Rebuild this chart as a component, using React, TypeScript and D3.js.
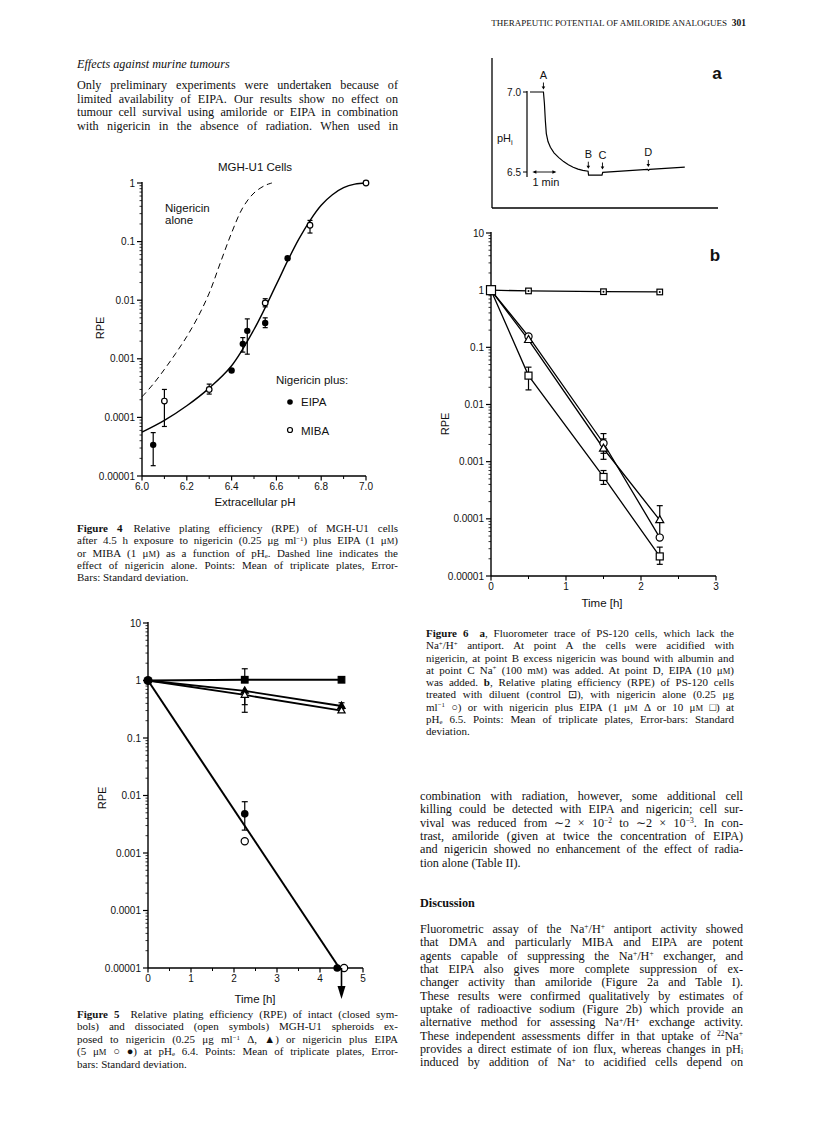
import React, { useLayoutEffect, useRef } from 'react';
import * as d3 from 'd3';

const SERIF = "'Liberation Serif', 'Times New Roman', serif";
const SANS = "'Liberation Sans', Arial, Helvetica, sans-serif";

// ================= Page text =================
const headerTitle = 'THERAPEUTIC POTENTIAL OF AMILORIDE ANALOGUES';
const headerPage = '301';
const sectionHeading = 'Effects against murine tumours';
const introLines = [
  'Only preliminary experiments were undertaken because of',
  'limited availability of EIPA. Our results show no effect on',
  'tumour cell survival using amiloride or EIPA in combination',
  'with nigericin in the absence of radiation. When used in',
];
const fig4Caption = [
  '**Figure 4**§Relative plating efficiency (RPE) of MGH-U1 cells',
  'after 4.5 h exposure to nigericin (0.25 μg ml^{−1}) plus EIPA (1 μ~{M})',
  'or MIBA (1 μ~{M}) as a function of pH_{e}. Dashed line indicates the',
  'effect of nigericin alone. Points: Mean of triplicate plates, Error-',
  'Bars: Standard deviation.',
];
const fig5Caption = [
  '**Figure 5**§Relative plating efficiency (RPE) of intact (closed sym-',
  'bols) and dissociated (open symbols) MGH-U1 spheroids ex-',
  'posed to nigericin (0.25 μg ml^{−1} Δ, ▲) or nigericin plus EIPA',
  '(5 μ~{M} ○ ●) at pH_{e} 6.4. Points: Mean of triplicate plates, Error-',
  'bars: Standard deviation.',
];
const fig6Caption = [
  '**Figure 6**§**a**, Fluorometer trace of PS-120 cells, which lack the',
  'Na^{+}/H^{+} antiport. At point A the cells were acidified with',
  'nigericin, at point B excess nigericin was bound with albumin and',
  'at point C Na^{+} (100 m~{M}) was added. At point D, EIPA (10 μ~{M})',
  'was added. **b**, Relative plating efficiency (RPE) of PS-120 cells',
  'treated with diluent (control ⊡), with nigericin alone (0.25 μg',
  'ml^{−1} ○) or with nigericin plus EIPA (1 μ~{M} Δ or 10 μ~{M} □) at',
  'pH_{e} 6.5. Points: Mean of triplicate plates, Error-bars: Standard',
  'deviation.',
];
const rightBodyLines = [
  'combination with radiation, however, some additional cell',
  'killing could be detected with EIPA and nigericin; cell sur-',
  'vival was reduced from ∼2 × 10^{−2} to ∼2 × 10^{−3}. In con-',
  'trast, amiloride (given at twice the concentration of EIPA)',
  'and nigericin showed no enhancement of the effect of radia-',
  'tion alone (Table II).',
];
const discussionHeading = 'Discussion';
const discussionLines = [
  'Fluorometric assay of the Na^{+}/H^{+} antiport activity showed',
  'that DMA and particularly MIBA and EIPA are potent',
  'agents capable of suppressing the Na^{+}/H^{+} exchanger, and',
  'that EIPA also gives more complete suppression of ex-',
  'changer activity than amiloride (Figure 2a and Table I).',
  'These results were confirmed qualitatively by estimates of',
  'uptake of radioactive sodium (Figure 2b) which provide an',
  'alternative method for assessing Na^{+}/H^{+} exchange activity.',
  'These independent assessments differ in that uptake of ^{22}Na^{+}',
  'provides a direct estimate of ion flux, whereas changes in pH_{i}',
  'induced by addition of Na^{+} to acidified cells depend on',
];

// ================= Figure 4 data =================
const fig4Title = 'MGH-U1 Cells';
const fig4XLabel = 'Extracellular pH';
const fig4YLabel = 'RPE';
const fig4XTicks = [6.0, 6.2, 6.4, 6.6, 6.8, 7.0];
const fig4XMinorTicks = [6.1, 6.3, 6.5, 6.7, 6.9];
const fig4YTicks = [1, 0.1, 0.01, 0.001, 0.0001, 0.00001];
const fig4YTickLabels = ['1', '0.1', '0.01', '0.001', '0.0001', '0.00001'];
const fig4EipaPH = [6.05, 6.4, 6.45, 6.47, 6.55, 6.65];
const fig4EipaRPE = [0.000034, 0.00063, 0.0018, 0.003, 0.0041, 0.052];
const fig4EipaLow = [0.000015, NaN, 0.0013, 0.0012, 0.0034, NaN];
const fig4EipaHigh = [0.000055, NaN, 0.0023, 0.0048, 0.005, NaN];
const fig4MibaPH = [6.1, 6.3, 6.55, 6.75, 7.0];
const fig4MibaRPE = [0.00019, 0.0003, 0.009, 0.19, 1.0];
const fig4MibaLow = [0.00007, 0.00025, 0.0077, 0.14, NaN];
const fig4MibaHigh = [0.0003, 0.00037, 0.0106, 0.23, NaN];
const fig4FitPH = [6.0, 6.1, 6.2, 6.3, 6.4, 6.5, 6.6, 6.65, 6.7, 6.75, 6.8, 6.85, 6.9, 6.95, 7.0];
const fig4FitRPE = [0.000056, 0.000089, 0.000158, 0.000316, 0.00076, 0.00316, 0.0186, 0.0468, 0.11, 0.229, 0.417, 0.631, 0.832, 0.955, 1.0];
const fig4AlonePH = [6.0, 6.05, 6.1, 6.15, 6.2, 6.25, 6.3, 6.35, 6.4, 6.45, 6.5, 6.55, 6.58];
const fig4AloneRPE = [0.000224, 0.00037, 0.00066, 0.00123, 0.0024, 0.0052, 0.0132, 0.0437, 0.141, 0.38, 0.676, 0.912, 1.0];
const fig4AloneLabel = ['Nigericin', 'alone'];
const fig4LegendTitle = 'Nigericin plus:';
const fig4LegendItems = ['EIPA', 'MIBA'];

// ================= Figure 6a data =================
const fig6aYTicks = [7.0, 6.5];
const fig6aYTickLabels = ['7.0', '6.5'];
const fig6aTraceMin = [0, 0.56, 0.6, 0.64, 0.68, 0.75, 0.85, 1.0, 1.2, 1.4, 1.6, 1.8, 2.0, 2.2, 2.42, 2.44, 3.0, 3.03, 4.9, 4.94, 4.98, 6.45];
const fig6aTracePH = [7.0, 7.0, 6.93, 6.82, 6.74, 6.69, 6.655, 6.62, 6.59, 6.565, 6.545, 6.53, 6.518, 6.51, 6.505, 6.48, 6.48, 6.498, 6.516, 6.51, 6.516, 6.53];
const fig6aEventLabels = ['A', 'B', 'C', 'D'];
const fig6aEventMin = [0.56, 2.43, 3.02, 4.93];
const fig6aEventPH = [7.0, 6.505, 6.5, 6.516];
const fig6aScaleMin = [0.1, 1.1];
const fig6aScaleLabel = '1 min';
const fig6aPanel = 'a';

// ================= Figure 6b data =================
const fig6bXTicks = [0, 1, 2, 3];
const fig6bXMinor = [0.5, 1.5, 2.5];
const fig6bYTicks = [10, 1, 0.1, 0.01, 0.001, 0.0001, 0.00001];
const fig6bYTickLabels = ['10', '1', '0.1', '0.01', '0.001', '0.0001', '0.00001'];
const fig6bTime = [0, 0.5, 1.5, 2.25];
const fig6bControl = [1, 0.97, 0.94, 0.93];
const fig6bNigericin = [1, 0.155, 0.0021, 0.000047];
const fig6bNigericinLow = [NaN, NaN, 0.0014, NaN];
const fig6bNigericinHigh = [NaN, NaN, 0.0031, NaN];
const fig6bEipa1 = [1, 0.135, 0.0017, 0.000095];
const fig6bEipa1Low = [NaN, NaN, 0.0011, 0.00005];
const fig6bEipa1High = [NaN, NaN, 0.0025, 0.00017];
const fig6bEipa10 = [1, 0.032, 0.00054, 0.000022];
const fig6bEipa10Low = [NaN, 0.018, 0.0004, 0.000016];
const fig6bEipa10High = [NaN, 0.045, 0.0007, 0.000032];
const fig6bPanel = 'b';

// ================= Figure 5 data =================
const fig5XTicks = [0, 1, 2, 3, 4, 5];
const fig5XMinor = [0.5, 1.5, 2.5, 3.5, 4.5];
const fig5YTicks = [10, 1, 0.1, 0.01, 0.001, 0.0001, 0.00001];
const fig5YTickLabels = ['10', '1', '0.1', '0.01', '0.001', '0.0001', '0.00001'];
const fig5Time = [0, 2.25, 4.5];
const fig5Control = [1, 1.03, 1.03];
const fig5ControlHigh = [NaN, 1.6, NaN];
const fig5NigClosed = [1, 0.66, 0.36];
const fig5NigClosedLow = [NaN, 0.38, 0.32];
const fig5NigClosedHigh = [NaN, NaN, 0.41];
const fig5NigOpen = [1, 0.56, 0.3];
const fig5NigOpenLow = [NaN, 0.28, NaN];
const fig5EipaClosedTime = [0, 2.25, 4.4];
const fig5EipaClosed = [1, 0.0048, 0.00001];
const fig5EipaClosedLow = [NaN, 0.0025, NaN];
const fig5EipaClosedHigh = [NaN, 0.0078, NaN];
const fig5EipaOpenTime = [2.25, 4.56];
const fig5EipaOpen = [0.0016, 0.00001];
const fig5FitTime = [0, 4.45];
const fig5FitRPE = [1, 0.00001];
const fig5ArrowTime = 4.5;

// ================= helpers =================
function parse(s) {
  const out = [];
  const re = /\*\*([^*]+)\*\*|\^\{([^}]+)\}|_\{([^}]+)\}|~\{([^}]+)\}|§/g;
  let last = 0;
  let m;
  while ((m = re.exec(s))) {
    if (m.index > last) out.push({ t: s.slice(last, m.index) });
    if (m[1] !== undefined) out.push({ t: m[1], bold: true });
    else if (m[2] !== undefined) out.push({ t: m[2], sup: true });
    else if (m[3] !== undefined) out.push({ t: m[3], sub: true });
    else if (m[4] !== undefined) out.push({ t: m[4], sc: true });
    else out.push({ t: '\u2002\u2002', gap: true });
    last = re.lastIndex;
  }
  if (last < s.length) out.push({ t: s.slice(last) });
  return out;
}

function Rich({ s, x, y, size, width = 0, justify = false, family = SERIF, weight = 'normal', fontStyle = 'normal', anchor = 'start' }) {
  const segs = parse(s);
  let shift = 0;
  const kids = segs.map((g, i) => {
    let target = 0;
    let fs = size;
    if (g.sup) { target = -size * 0.3; fs = size * 0.62; }
    if (g.sub) { target = size * 0.1; fs = size * 0.62; }
    if (g.sc) { fs = size * 0.78; }
    const dy = target - shift;
    shift = target;
    return (
      <tspan key={i} dy={dy !== 0 ? dy : undefined} fontSize={fs} fontWeight={g.bold ? 'bold' : undefined}>
        {g.t}
      </tspan>
    );
  });
  return (
    <text x={x} y={y} fontSize={size} fontFamily={family} fontWeight={weight} fontStyle={fontStyle}
      textAnchor={anchor} fill="#111" data-w={justify ? width : undefined}>
      {kids}
    </text>
  );
}

function Marker({ kind, x, y, s }) {
  const sw = 1.2;
  if (kind === 'dot') return <circle cx={x} cy={y} r={s} fill="#000" />;
  if (kind === 'ring') return <circle cx={x} cy={y} r={s} fill="#fff" stroke="#000" strokeWidth={sw} />;
  if (kind === 'tri' || kind === 'triFill') {
    const pts = [[x, y - s * 1.1], [x - s, y + s * 0.65], [x + s, y + s * 0.65]].map(p => p.join(',')).join(' ');
    return <polygon points={pts} fill={kind === 'tri' ? '#fff' : '#000'} stroke="#000" strokeWidth={sw} />;
  }
  if (kind === 'sq' || kind === 'sqFill') return <rect x={x - s} y={y - s} width={2 * s} height={2 * s} fill={kind === 'sq' ? '#fff' : '#000'} stroke="#000" strokeWidth={sw} />;
  if (kind === 'sqDot') return (
    <g>
      <rect x={x - s} y={y - s} width={2 * s} height={2 * s} fill="#fff" stroke="#000" strokeWidth={sw} />
      <circle cx={x} cy={y} r={s * 0.35} fill="#000" />
    </g>
  );
  return null;
}

function LogYAxis({ scale, x, ticks, labels, fontSize = 10 }) {
  const [lo, hi] = scale.domain();
  const minors = [];
  for (let e = Math.round(Math.log10(lo)); e < Math.round(Math.log10(hi)); e++) {
    for (let k = 2; k <= 9; k++) minors.push(k * Math.pow(10, e));
  }
  return (
    <g>
      <line x1={x} x2={x} y1={scale(lo)} y2={scale(hi) - 1} stroke="#000" strokeWidth={1.4} />
      {minors.map((v, i) => <line key={'m' + i} x1={x - 2.5} x2={x} y1={scale(v)} y2={scale(v)} stroke="#000" strokeWidth={0.8} />)}
      {ticks.map((v, i) => (
        <g key={'t' + i}>
          <line x1={x - 5} x2={x} y1={scale(v)} y2={scale(v)} stroke="#000" strokeWidth={1.2} />
          <text x={x - 7} y={scale(v) + 3.5} textAnchor="end" fontFamily={SANS} fontSize={fontSize} fill="#111">{labels[i]}</text>
        </g>
      ))}
    </g>
  );
}

function LinXAxis({ scale, y, ticks, minor, labels, fontSize = 10 }) {
  const [a, b] = scale.domain();
  return (
    <g>
      <line x1={scale(a)} x2={scale(b)} y1={y} y2={y} stroke="#000" strokeWidth={1.4} />
      {minor.map((v, i) => <line key={'m' + i} x1={scale(v)} x2={scale(v)} y1={y} y2={y + 3} stroke="#000" strokeWidth={1} />)}
      {ticks.map((v, i) => (
        <g key={'t' + i}>
          <line x1={scale(v)} x2={scale(v)} y1={y} y2={y + 4.5} stroke="#000" strokeWidth={1.2} />
          <text x={scale(v)} y={y + 13.5} textAnchor="middle" fontFamily={SANS} fontSize={fontSize} fill="#111">{labels[i]}</text>
        </g>
      ))}
    </g>
  );
}

function TextBlock({ lines, x, y0, lh, size, width, justifyLast = false }) {
  return (
    <g>
      {lines.map((l, i) => (
        <Rich key={i} s={l} x={x} y={y0 + i * lh} size={size} width={width}
          justify={i < lines.length - 1 || justifyLast} />
      ))}
    </g>
  );
}

function zip(a, b) { return a.map((v, i) => [v, b[i]]); }

function errPair(t, lo, hi, sx, sy, yc, cap = 3) {
  const top = isNaN(hi) ? yc : sy(hi);
  const bot = isNaN(lo) ? yc : sy(lo);
  return (
    <g stroke="#000" strokeWidth={1.2}>
      <line x1={sx(t)} x2={sx(t)} y1={top} y2={bot} />
      {!isNaN(hi) && <line x1={sx(t) - cap} x2={sx(t) + cap} y1={top} y2={top} />}
      {!isNaN(lo) && <line x1={sx(t) - cap} x2={sx(t) + cap} y1={bot} y2={bot} />}
    </g>
  );
}

// ================= App =================
export default function App() {
  const ref = useRef(null);

  useLayoutEffect(() => {
    const run = () => {
      const root = ref.current;
      if (!root) return;
      root.querySelectorAll('text[data-w]').forEach((el) => {
        const w = parseFloat(el.getAttribute('data-w'));
        el.removeAttribute('textLength');
        el.removeAttribute('lengthAdjust');
        el.style.wordSpacing = '0px';
        const nat = el.getComputedTextLength();
        const n = (el.textContent.match(/ /g) || []).length;
        if (nat < w && n > 0) {
          el.style.wordSpacing = (w - nat) / n + 'px';
          const after = el.getComputedTextLength();
          if (Math.abs(after - w) > 2) {
            el.style.wordSpacing = '0px';
            el.setAttribute('textLength', String(w));
            el.setAttribute('lengthAdjust', 'spacing');
          }
        } else if (nat > w) {
          el.setAttribute('textLength', String(w));
          el.setAttribute('lengthAdjust', 'spacingAndGlyphs');
        }
      });
    };
    run();
    if (document.fonts && document.fonts.ready) document.fonts.ready.then(run);
  }, []);

  // ---- Figure 4 scales ----
  const f4x = d3.scaleLinear().domain([6, 7]).range([142, 366]);
  const f4y = d3.scaleLog().domain([1e-5, 1]).range([476, 183]);
  const f4line = d3.line().x(d => f4x(d[0])).y(d => f4y(d[1])).curve(d3.curveCatmullRom.alpha(0.5));

  // ---- Figure 6a scales ----
  const f6ax = d3.scaleLinear().domain([0, 1]).range([530, 554]);
  const f6ay = d3.scaleLinear().domain([6.5, 7.0]).range([172, 92]);
  const f6aline = d3.line().x(d => f6ax(d[0])).y(d => f6ay(d[1]));

  // ---- Figure 6b scales ----
  const f6bx = d3.scaleLinear().domain([0, 3]).range([491, 716]);
  const f6by = d3.scaleLog().domain([1e-5, 10]).range([576, 233]);
  const f6bline = d3.line().x(d => f6bx(d[0])).y(d => f6by(d[1]));

  // ---- Figure 5 scales ----
  const f5x = d3.scaleLinear().domain([0, 5]).range([148, 363]);
  const f5y = d3.scaleLog().domain([1e-5, 10]).range([968, 623]);
  const f5line = d3.line().x(d => f5x(d[0])).y(d => f5y(d[1]));

  const colL = 77, colLW = 321, colR = 420, colRW = 323, capR = 426, capRW = 308;
  const bodySize = 12.2, capSize = 11;

  return (
    <svg ref={ref} width={816} height={1137} viewBox="0 0 816 1137"
      style={{ position: 'absolute', left: 0, top: 0, background: '#fff' }}>
      <rect x={0} y={0} width={816} height={1137} fill="#fff" />

      {/* Header */}
      <text x={727} y={26} textAnchor="end" fontFamily={SERIF} fontSize={9} fill="#111">{headerTitle}</text>
      <text x={746} y={26} textAnchor="end" fontFamily={SERIF} fontSize={9.5} fontWeight="bold" fill="#111">{headerPage}</text>

      {/* Left column intro */}
      <text x={colL} y={68} fontFamily={SERIF} fontStyle="italic" fontSize={bodySize} fill="#111">{sectionHeading}</text>
      <TextBlock lines={introLines} x={colL} y0={89} lh={13.6} size={bodySize} width={colLW} justifyLast={true} />

      {/* ================= Figure 4 ================= */}
      <g>
        <text x={255} y={171} textAnchor="middle" fontFamily={SANS} fontSize={11.5} fill="#111">{fig4Title}</text>
        <LogYAxis scale={f4y} x={f4x(6)} ticks={fig4YTicks} labels={fig4YTickLabels} />
        <LinXAxis scale={f4x} y={f4y(1e-5)} ticks={fig4XTicks} minor={fig4XMinorTicks}
          labels={fig4XTicks.map(v => v.toFixed(1))} />
        <text x={255} y={506} textAnchor="middle" fontFamily={SANS} fontSize={11.5} fill="#111">{fig4XLabel}</text>
        <text transform={`translate(104,328) rotate(-90)`} textAnchor="middle" fontFamily={SANS} fontSize={11} fill="#111">{fig4YLabel}</text>
        <path d={f4line(zip(fig4AlonePH, fig4AloneRPE))} fill="none" stroke="#000" strokeWidth={1} strokeDasharray="6,4" />
        <path d={f4line(zip(fig4FitPH, fig4FitRPE))} fill="none" stroke="#000" strokeWidth={1.4} />
        {fig4EipaPH.map((p, i) => (
          <g key={'e' + i}>
            {!isNaN(fig4EipaLow[i]) && errPair(p, fig4EipaLow[i], fig4EipaHigh[i], f4x, f4y, f4y(fig4EipaRPE[i]), 2.5)}
            <Marker kind="dot" x={f4x(p)} y={f4y(fig4EipaRPE[i])} s={3.2} />
          </g>
        ))}
        {fig4MibaPH.map((p, i) => (
          <g key={'m' + i}>
            {!isNaN(fig4MibaLow[i]) && errPair(p, fig4MibaLow[i], fig4MibaHigh[i], f4x, f4y, f4y(fig4MibaRPE[i]), 2.5)}
            <Marker kind="ring" x={f4x(p)} y={f4y(fig4MibaRPE[i])} s={2.8} />
          </g>
        ))}
        {fig4AloneLabel.map((t, i) => (
          <text key={t} x={165} y={212 + i * 12} fontFamily={SANS} fontSize={11.5} fill="#111">{t}</text>
        ))}
        <text x={276} y={384} fontFamily={SANS} fontSize={11.5} fill="#111">{fig4LegendTitle}</text>
        <Marker kind="dot" x={290} y={402} s={2.8} />
        <text x={301} y={406} fontFamily={SANS} fontSize={11.5} fill="#111">{fig4LegendItems[0]}</text>
        <Marker kind="ring" x={290} y={430} s={2.5} />
        <text x={301} y={434.5} fontFamily={SANS} fontSize={11.5} fill="#111">{fig4LegendItems[1]}</text>
      </g>

      <TextBlock lines={fig4Caption} x={colL} y0={532} lh={12.3} size={capSize} width={colLW} />

      {/* ================= Figure 6a ================= */}
      <g>
        <line x1={492} x2={492} y1={58} y2={208} stroke="#000" strokeWidth={1.3} />
        <line x1={492} x2={718} y1={208} y2={208} stroke="#000" strokeWidth={1.3} />
        <line x1={527} x2={527} y1={f6ay(7.0) - 1} y2={f6ay(6.5) + 5} stroke="#000" strokeWidth={1.2} />
        {fig6aYTicks.map((v, i) => (
          <g key={v}>
            <line x1={523} x2={527} y1={f6ay(v)} y2={f6ay(v)} stroke="#000" strokeWidth={1} />
            <text x={521} y={f6ay(v) + 3.5} textAnchor="end" fontFamily={SANS} fontSize={10} fill="#111">{fig6aYTickLabels[i]}</text>
          </g>
        ))}
        <text x={497} y={142} fontFamily={SANS} fontSize={11} fill="#111">pH<tspan fontSize={7.5} dy={3}>i</tspan></text>
        <path d={f6aline(zip(fig6aTraceMin, fig6aTracePH))} fill="none" stroke="#000" strokeWidth={1.2} />
        {fig6aEventLabels.map((lab, i) => {
          const x = f6ax(fig6aEventMin[i]);
          const tip = f6ay(fig6aEventPH[i]) - 2.5;
          return (
            <g key={lab}>
              <line x1={x} x2={x} y1={tip - 7} y2={tip - 2} stroke="#000" strokeWidth={0.9} />
              <polygon points={`${x - 1.8},${tip - 3} ${x + 1.8},${tip - 3} ${x},${tip}`} fill="#000" />
              <text x={x} y={tip - 11} textAnchor="middle" fontFamily={SANS} fontSize={11} fill="#111">{lab}</text>
            </g>
          );
        })}
        {(() => {
          const xa = f6ax(fig6aScaleMin[0]);
          const xb = f6ax(fig6aScaleMin[1]);
          const y = f6ay(6.5);
          return (
            <g>
              <line x1={xa + 2} x2={xb - 2} y1={y} y2={y} stroke="#000" strokeWidth={0.9} />
              <polygon points={`${xa},${y} ${xa + 4},${y - 1.8} ${xa + 4},${y + 1.8}`} fill="#000" />
              <polygon points={`${xb},${y} ${xb - 4},${y - 1.8} ${xb - 4},${y + 1.8}`} fill="#000" />
              <text x={xa} y={y + 14} fontFamily={SANS} fontSize={11} fill="#111">{fig6aScaleLabel}</text>
            </g>
          );
        })()}
        <text x={717} y={79} textAnchor="middle" fontFamily={SANS} fontWeight="bold" fontSize={17} fill="#111">{fig6aPanel}</text>
      </g>

      {/* ================= Figure 6b ================= */}
      <g>
        <LogYAxis scale={f6by} x={f6bx(0)} ticks={fig6bYTicks} labels={fig6bYTickLabels} />
        <LinXAxis scale={f6bx} y={f6by(1e-5)} ticks={fig6bXTicks} minor={fig6bXMinor} labels={fig6bXTicks.map(String)} />
        <text x={602} y={607} textAnchor="middle" fontFamily={SANS} fontSize={11.5} fill="#111">Time [h]</text>
        <text transform={`translate(449,424) rotate(-90)`} textAnchor="middle" fontFamily={SANS} fontSize={11} fill="#111">RPE</text>
        <text x={715} y={261} textAnchor="middle" fontFamily={SANS} fontWeight="bold" fontSize={17} fill="#111">{fig6bPanel}</text>
        {[fig6bControl, fig6bNigericin, fig6bEipa1, fig6bEipa10].map((ser, k) => (
          <path key={k} d={f6bline(zip(fig6bTime, ser))} fill="none" stroke="#000" strokeWidth={1.3} />
        ))}
        {fig6bTime.map((t, i) => (
          <g key={'eb' + i}>
            {!isNaN(fig6bNigericinLow[i]) && errPair(t, fig6bNigericinLow[i], fig6bNigericinHigh[i], f6bx, f6by, 0)}
            {!isNaN(fig6bEipa1Low[i]) && errPair(t, fig6bEipa1Low[i], fig6bEipa1High[i], f6bx, f6by, 0)}
            {!isNaN(fig6bEipa10Low[i]) && errPair(t, fig6bEipa10Low[i], fig6bEipa10High[i], f6bx, f6by, 0)}
          </g>
        ))}
        {fig6bTime.map((t, i) => i > 0 && (
          <g key={'mk' + i}>
            <Marker kind="sqDot" x={f6bx(t)} y={f6by(fig6bControl[i])} s={2.8} />
            <Marker kind="ring" x={f6bx(t)} y={f6by(fig6bNigericin[i])} s={3.6} />
            <Marker kind="tri" x={f6bx(t)} y={f6by(fig6bEipa1[i])} s={4} />
            <Marker kind="sq" x={f6bx(t)} y={f6by(fig6bEipa10[i])} s={3.5} />
          </g>
        ))}
        <Marker kind="sq" x={f6bx(fig6bTime[0])} y={f6by(fig6bEipa10[0])} s={4.5} />
      </g>

      <TextBlock lines={fig6Caption} x={capR} y0={637} lh={12.25} size={capSize} width={capRW} />

      {/* Right column body */}
      <TextBlock lines={rightBodyLines} x={colR} y0={800} lh={13.33} size={bodySize} width={colRW} />
      <text x={colR} y={907} fontFamily={SERIF} fontWeight="bold" fontSize={bodySize} fill="#111">{discussionHeading}</text>
      <TextBlock lines={discussionLines} x={colR} y0={933} lh={13.33} size={bodySize} width={colRW} justifyLast={true} />

      {/* ================= Figure 5 ================= */}
      <g>
        <LogYAxis scale={f5y} x={f5x(0)} ticks={fig5YTicks} labels={fig5YTickLabels} />
        <LinXAxis scale={f5x} y={f5y(1e-5)} ticks={fig5XTicks} minor={fig5XMinor} labels={fig5XTicks.map(String)} />
        <text x={255} y={1003} textAnchor="middle" fontFamily={SANS} fontSize={11.5} fill="#111">Time [h]</text>
        <text transform={`translate(106,798) rotate(-90)`} textAnchor="middle" fontFamily={SANS} fontSize={11} fill="#111">RPE</text>
        <path d={f5line(zip(fig5Time, fig5Control))} fill="none" stroke="#000" strokeWidth={1.8} />
        <path d={f5line(zip(fig5Time, fig5NigClosed))} fill="none" stroke="#000" strokeWidth={1.8} />
        <path d={f5line(zip(fig5Time, fig5NigOpen))} fill="none" stroke="#000" strokeWidth={1.8} />
        <path d={f5line(zip(fig5FitTime, fig5FitRPE))} fill="none" stroke="#000" strokeWidth={2} />
        {fig5Time.map((t, i) => (
          <g key={'e5' + i}>
            {!isNaN(fig5ControlHigh[i]) && errPair(t, NaN, fig5ControlHigh[i], f5x, f5y, f5y(fig5Control[i]))}
            {(!isNaN(fig5NigClosedLow[i]) || !isNaN(fig5NigClosedHigh[i])) && errPair(t, fig5NigClosedLow[i], fig5NigClosedHigh[i], f5x, f5y, f5y(fig5NigClosed[i]))}
            {!isNaN(fig5NigOpenLow[i]) && errPair(t, fig5NigOpenLow[i], NaN, f5x, f5y, f5y(fig5NigOpen[i]))}
          </g>
        ))}
        {fig5EipaClosedTime.map((t, i) => (
          !isNaN(fig5EipaClosedLow[i]) ? <g key={'ec' + i}>{errPair(t, fig5EipaClosedLow[i], fig5EipaClosedHigh[i], f5x, f5y, 0)}</g> : null
        ))}
        {fig5Time.map((t, i) => i > 0 && (
          <g key={'m5' + i}>
            <Marker kind="sqFill" x={f5x(t)} y={f5y(fig5Control[i])} s={3.3} />
            <Marker kind="triFill" x={f5x(t)} y={f5y(fig5NigClosed[i])} s={3.6} />
            <Marker kind="tri" x={f5x(t)} y={f5y(fig5NigOpen[i])} s={3.6} />
          </g>
        ))}
        {fig5EipaOpenTime.map((t, i) => (
          <Marker key={'o5' + i} kind="ring" x={f5x(t)} y={f5y(fig5EipaOpen[i])} s={3.6} />
        ))}
        {fig5EipaClosedTime.map((t, i) => (
          <Marker key={'c5' + i} kind="dot" x={f5x(t)} y={f5y(fig5EipaClosed[i])} s={i === 0 ? 4.6 : 3.8} />
        ))}
        {(() => {
          const x = f5x(fig5ArrowTime);
          const y = f5y(1e-5);
          return (
            <g>
              <line x1={x} x2={x} y1={y} y2={y + 20} stroke="#000" strokeWidth={1.6} />
              <polygon points={`${x - 4},${y + 18} ${x + 4},${y + 18} ${x},${y + 31}`} fill="#000" />
            </g>
          );
        })()}
      </g>

      <TextBlock lines={fig5Caption} x={colL} y0={1018} lh={12.4} size={capSize} width={colLW} />
    </svg>
  );
}
